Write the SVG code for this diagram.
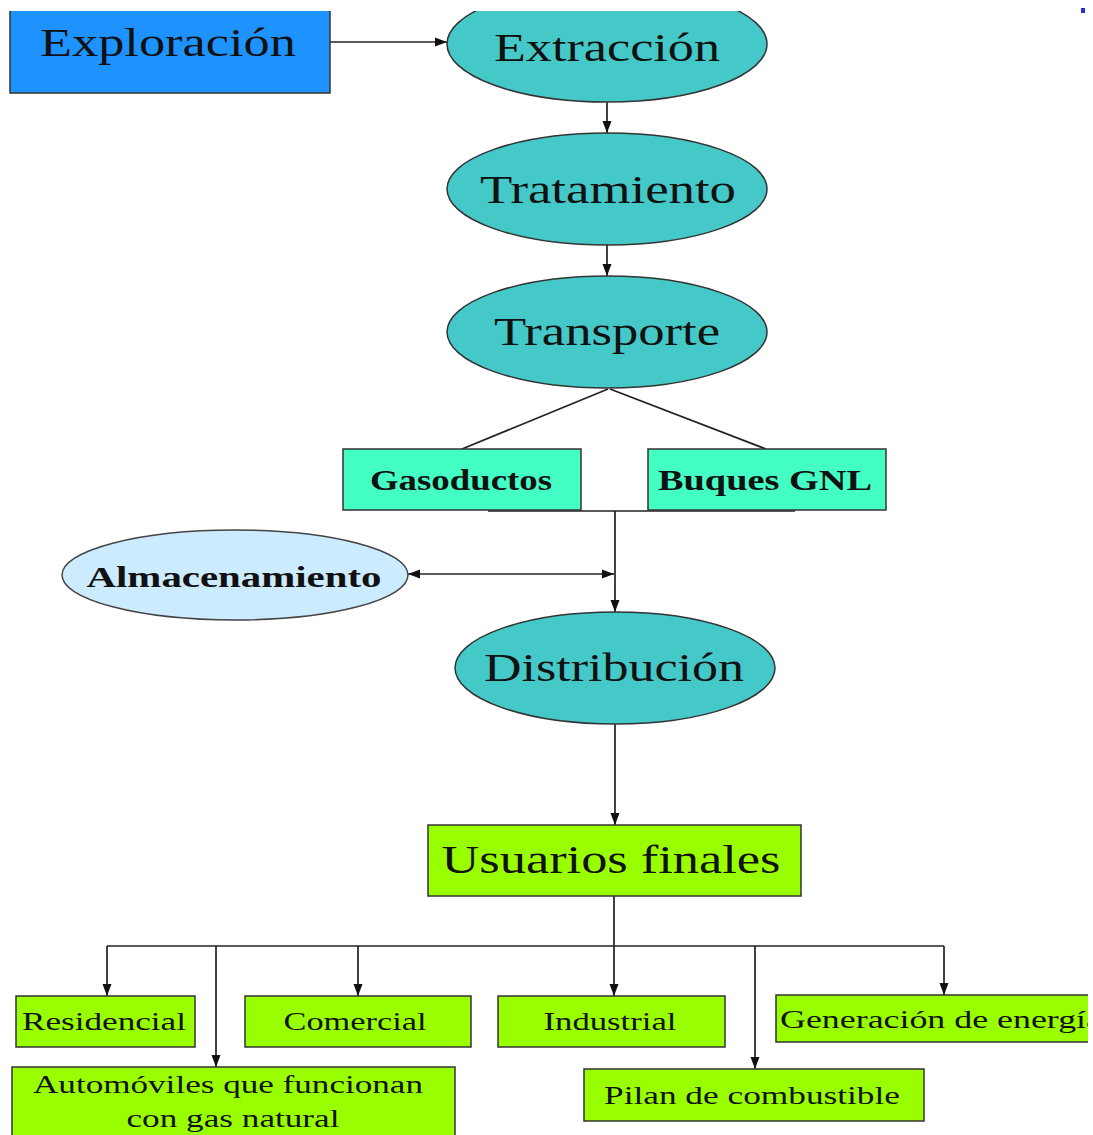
<svg xmlns="http://www.w3.org/2000/svg" width="1093" height="1135" viewBox="0 0 1093 1135">
<style>
.lbl{font-family:"Liberation Serif","Times New Roman",serif;fill:#111;}
.big{font-size:40px;}
.mid{font-size:29px;font-weight:bold;}
.sm{font-size:25px;}
.ell{fill:#44C8C8;stroke:#333;stroke-width:1.5;}
.edge{stroke:#222;stroke-width:1.7;fill:none;}
.green{fill:#99FF00;stroke:#333;stroke-width:1.5;}
.aqua{fill:#44FFC4;stroke:#333;stroke-width:1.5;}
</style>
<defs>
<marker id="ah" markerWidth="12" markerHeight="10" refX="12" refY="5" orient="auto" markerUnits="userSpaceOnUse">
<path d="M0,0.5 L12,5 L0,9.5 Z" fill="#111"/>
</marker>
<marker id="ahs" markerWidth="12" markerHeight="10" refX="0" refY="5" orient="auto" markerUnits="userSpaceOnUse">
<path d="M12,0.5 L0,5 L12,9.5 Z" fill="#111"/>
</marker>
<clipPath id="top"><rect x="0" y="11" width="1088" height="1124"/></clipPath>
</defs>
<rect x="0" y="0" width="1093" height="1135" fill="#fff"/>
<rect x="1081" y="8" width="4" height="5" fill="#2233cc"/>
<g id="connectors">
<line class="edge" x1="330" y1="42" x2="447" y2="42" marker-end="url(#ah)"/>
<line class="edge" x1="607" y1="102" x2="607" y2="133" marker-end="url(#ah)"/>
<line class="edge" x1="607" y1="245" x2="607" y2="276" marker-end="url(#ah)"/>
<line class="edge" x1="608" y1="389" x2="462" y2="449"/>
<line class="edge" x1="610" y1="389" x2="766" y2="449"/>
<line class="edge" x1="488" y1="511" x2="795" y2="511"/>
<line class="edge" x1="615" y1="511" x2="615" y2="612" marker-end="url(#ah)"/>
<line class="edge" x1="408" y1="574" x2="614" y2="574" marker-start="url(#ahs)" marker-end="url(#ah)"/>
<line class="edge" x1="615" y1="723" x2="615" y2="825" marker-end="url(#ah)"/>
<line class="edge" x1="614" y1="896" x2="614" y2="946"/>
<line class="edge" x1="107" y1="946" x2="944" y2="946"/>
<line class="edge" x1="107" y1="946" x2="107" y2="996" marker-end="url(#ah)"/>
<line class="edge" x1="216" y1="946" x2="216" y2="1067" marker-end="url(#ah)"/>
<line class="edge" x1="358" y1="946" x2="358" y2="996" marker-end="url(#ah)"/>
<line class="edge" x1="614" y1="946" x2="614" y2="996" marker-end="url(#ah)"/>
<line class="edge" x1="755" y1="946" x2="755" y2="1069" marker-end="url(#ah)"/>
<line class="edge" x1="944" y1="946" x2="944" y2="995" marker-end="url(#ah)"/>
</g>
<g id="exploracion" clip-path="url(#top)">
<rect x="10" y="5" width="320" height="88" fill="#1E92FF" stroke="#333" stroke-width="1.5"/>
<text class="lbl big" x="168" y="56" text-anchor="middle" textLength="256" lengthAdjust="spacingAndGlyphs">Exploración</text>
</g>
<g id="extraccion" clip-path="url(#top)">
<ellipse class="ell" cx="607" cy="44" rx="160" ry="58"/>
<text class="lbl big" x="607" y="61" text-anchor="middle" textLength="226" lengthAdjust="spacingAndGlyphs">Extracción</text>
</g>
<g id="tratamiento">
<ellipse class="ell" cx="607" cy="189" rx="160" ry="56"/>
<text class="lbl big" x="608" y="203" text-anchor="middle" textLength="256" lengthAdjust="spacingAndGlyphs">Tratamiento</text>
</g>
<g id="transporte">
<ellipse class="ell" cx="607" cy="332" rx="160" ry="56"/>
<text class="lbl big" x="607" y="345" text-anchor="middle" textLength="226" lengthAdjust="spacingAndGlyphs">Transporte</text>
</g>
<g id="gasoductos">
<rect class="aqua" x="343" y="449" width="238" height="61"/>
<text class="lbl mid" x="461" y="490" text-anchor="middle" textLength="182" lengthAdjust="spacingAndGlyphs">Gasoductos</text>
</g>
<g id="buques">
<rect class="aqua" x="648" y="449" width="238" height="61"/>
<text class="lbl mid" x="765" y="490" text-anchor="middle" textLength="214" lengthAdjust="spacingAndGlyphs">Buques GNL</text>
</g>
<g id="almacenamiento">
<ellipse cx="235" cy="575" rx="173" ry="45" fill="#CCEBFF" stroke="#444" stroke-width="1.5"/>
<text class="lbl mid" x="234" y="587" text-anchor="middle" textLength="295" lengthAdjust="spacingAndGlyphs">Almacenamiento</text>
</g>
<g id="distribucion">
<ellipse class="ell" cx="615" cy="668" rx="160" ry="56"/>
<text class="lbl big" x="614" y="681" text-anchor="middle" textLength="260" lengthAdjust="spacingAndGlyphs">Distribución</text>
</g>
<g id="usuarios">
<rect class="green" x="428" y="825" width="373" height="71"/>
<text class="lbl big" x="611" y="873" text-anchor="middle" textLength="339" lengthAdjust="spacingAndGlyphs">Usuarios finales</text>
</g>
<g id="residencial">
<rect class="green" x="16" y="996" width="179" height="51"/>
<text class="lbl sm" x="104" y="1030" text-anchor="middle" textLength="164" lengthAdjust="spacingAndGlyphs">Residencial</text>
</g>
<g id="comercial">
<rect class="green" x="245" y="996" width="226" height="51"/>
<text class="lbl sm" x="355" y="1030" text-anchor="middle" textLength="143" lengthAdjust="spacingAndGlyphs">Comercial</text>
</g>
<g id="industrial">
<rect class="green" x="498" y="996" width="227" height="51"/>
<text class="lbl sm" x="610" y="1030" text-anchor="middle" textLength="133" lengthAdjust="spacingAndGlyphs">Industrial</text>
</g>
<g id="generacion" clip-path="url(#top)">
<rect class="green" x="776" y="995" width="330" height="47"/>
<text class="lbl sm" x="780" y="1028" textLength="322" lengthAdjust="spacingAndGlyphs">Generación de energía</text>
</g>
<g id="automoviles">
<rect class="green" x="12" y="1067" width="443" height="80"/>
<text class="lbl sm" x="228" y="1093" text-anchor="middle" textLength="390" lengthAdjust="spacingAndGlyphs">Automóviles que funcionan</text>
<text class="lbl sm" x="233" y="1127" text-anchor="middle" textLength="213" lengthAdjust="spacingAndGlyphs">con gas natural</text>
</g>
<g id="pilan">
<rect class="green" x="584" y="1069" width="340" height="52"/>
<text class="lbl sm" x="752" y="1104" text-anchor="middle" textLength="296" lengthAdjust="spacingAndGlyphs">Pilan de combustible</text>
</g>
</svg>
